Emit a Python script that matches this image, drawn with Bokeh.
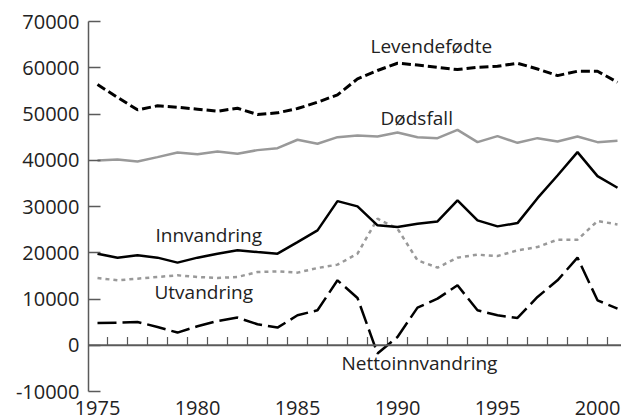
from bokeh.plotting import figure
from bokeh.models import Range1d, FixedTicker, Span, PrintfTickFormatter
from bokeh.core.properties import value
from bokeh.embed import file_html
from bokeh.resources import INLINE

# ---- data ----
years = list(range(1975, 2002))
levendefodte = [56370, 53600, 50900, 51770, 51470, 51040, 50600, 51250, 49890, 50250,
                51190, 52550, 54150, 57600, 59400, 60980, 60600, 60100, 59600, 60100,
                60330, 60970, 59740, 58300, 59250, 59250, 56870]
dodsfall = [39960, 40170, 39740, 40670, 41680, 41320, 41900, 41400, 42190, 42620,
            44430, 43560, 44990, 45360, 45140, 46000, 44990, 44780, 46580, 43910,
            45210, 43770, 44780, 44060, 45140, 43910, 44210]
innvandring = [19800, 18940, 19440, 18940, 17860, 18940, 19800, 20520, 20150, 19800,
               22310, 24840, 31170, 30020, 25920, 25550, 26280, 26780, 31320, 27000,
               25700, 26410, 31800, 36700, 41750, 36570, 34060]
utvandring = [14540, 14040, 14400, 14760, 15120, 14760, 14540, 14760, 15840, 15980,
              15700, 16700, 17430, 19800, 27360, 25200, 18360, 16780, 18940, 19590,
              19290, 20520, 21230, 22830, 22830, 26850, 26130]
nettoinnvandring = [4820, 4890, 5030, 3950, 2740, 4100, 5250, 5980, 4540, 3820,
                    6480, 7560, 14040, 10220, -1800, 1800, 8140, 10080, 12960, 7560,
                    6480, 5900, 10440, 14040, 18940, 9720, 7920]
x_tick_labels = [1975, 1980, 1985, 1990, 1995, 2000]
y_tick_labels = [-10000, 0, 10000, 20000, 30000, 40000, 50000, 60000, 70000]
series_names = ["Levendefødte", "Dødsfall", "Innvandring", "Utvandring", "Nettoinnvandring"]

# ---- label placement (positions, not data) ----
label_x = [1988.65, 1989.15, 1977.9, 1977.85, 1987.2]
label_y = [64800, 49240, 23760, 11450, -3890]

FONT = "Open Sans"
AXIS_COLOR = "#5a5a5a"
TEXT_COLOR = "#222222"
TICK_LEN = 1800  # ~8px in data units

p = figure(width=621, height=417,
           x_range=Range1d(1974.55, 2001.2), y_range=Range1d(-10000, 70000),
           output_backend="svg", toolbar_location=None,
           min_border_left=88, min_border_right=0, min_border_top=21, min_border_bottom=0)
p.outline_line_color = None
p.xgrid.grid_line_color = None
p.ygrid.grid_line_color = None

# y axis
ya = p.yaxis[0]
ya.ticker = FixedTicker(ticks=y_tick_labels)
ya.formatter = PrintfTickFormatter(format="%d")
ya.major_tick_in = 12
ya.major_tick_out = 0
ya.minor_tick_line_color = None
ya.axis_line_color = AXIS_COLOR
ya.axis_line_width = 1.5
ya.major_tick_line_color = AXIS_COLOR
ya.major_tick_line_width = 1.5
ya.major_label_text_font = FONT
ya.major_label_text_font_size = "20px"
ya.major_label_text_color = TEXT_COLOR
ya.major_label_standoff = 9

# x axis (labels only)
xa = p.xaxis[0]
xa.ticker = FixedTicker(ticks=x_tick_labels)
xa.axis_line_color = None
xa.major_tick_line_color = None
xa.minor_tick_line_color = None
xa.major_label_text_font = FONT
xa.major_label_text_font_size = "20px"
xa.major_label_text_color = TEXT_COLOR
xa.major_label_standoff = 3

# zero line with in-between-year ticks
p.add_layout(Span(location=0, dimension="width", line_color=AXIS_COLOR, line_width=2))
tick_x = [y + 0.5 for y in years[:-1]]
p.segment(x0=tick_x, y0=[0] * len(tick_x), x1=tick_x, y1=[TICK_LEN] * len(tick_x),
          line_color=AXIS_COLOR, line_width=1.2)

# series
p.line(years, dodsfall, line_color="#999999", line_width=2.5)
p.line(years, utvandring, line_color="#999999", line_width=2.5, line_dash="4 4")
p.line(years, levendefodte, line_color="black", line_width=3, line_dash="9 4")
p.line(years, innvandring, line_color="black", line_width=2.5)
p.line(years, nettoinnvandring, line_color="black", line_width=2.5, line_dash="19 6")

p.text(x=label_x, y=label_y, text=series_names, text_font=value(FONT),
       text_font_size="19px", text_baseline="middle", text_align="left",
       text_color=TEXT_COLOR)

open("out.html", "w").write(file_html(p, INLINE))
